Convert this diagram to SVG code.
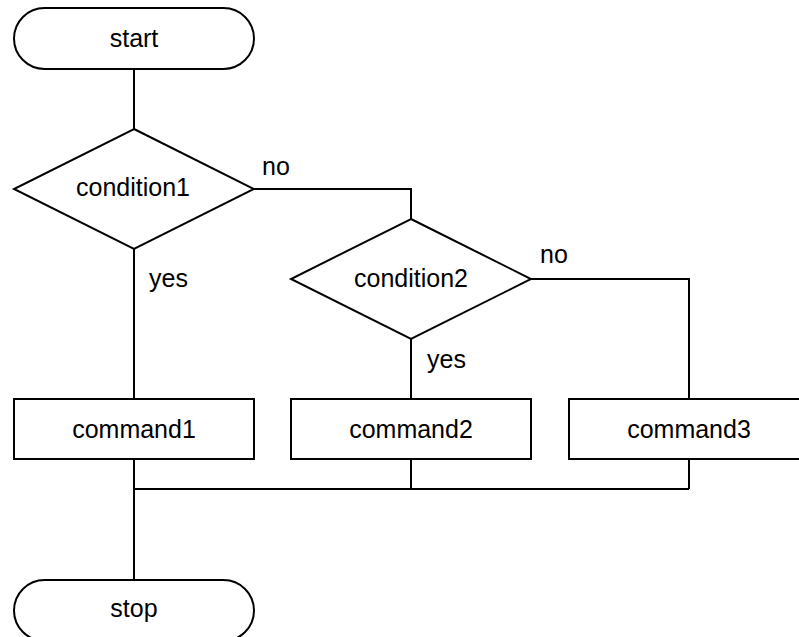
<svg xmlns="http://www.w3.org/2000/svg" width="799" height="637" viewBox="0 0 799 637">
  <style>
    .shape { fill: #ffffff; stroke: #000000; stroke-width: 2; }
    .wire { fill: none; stroke: #000000; stroke-width: 2; }
    .label { font-family: "Liberation Sans", Arial, sans-serif; font-size: 25px; fill: #000000; }
    .mid { text-anchor: middle; }
  </style>
  <rect width="799" height="637" fill="#ffffff"/>

  <!-- connectors -->
  <g id="connectors">
    <path class="wire" d="M134 69 V129"/>
    <path class="wire" d="M254 189 H411 V219"/>
    <path class="wire" d="M134 249 V399"/>
    <path class="wire" d="M531 279 H689 V399"/>
    <path class="wire" d="M411 339 V399"/>
    <path class="wire" d="M134 459 V580"/>
    <path class="wire" d="M411 459 V489"/>
    <path class="wire" d="M689 459 V489"/>
    <path class="wire" d="M134 489 H689"/>
    <text class="label" x="262" y="175">no</text>
    <text class="label" x="540" y="263">no</text>
    <text class="label" x="149" y="287">yes</text>
    <text class="label" x="427" y="368">yes</text>
  </g>

  <g id="start">
    <rect class="shape" x="14" y="8" width="240" height="61" rx="30.5" ry="30.5"/>
    <text class="label mid" x="134" y="47">start</text>
  </g>

  <g id="condition1">
    <polygon class="shape" points="134,129 254,189 134,249 14,189"/>
    <text class="label mid" x="133" y="196">condition1</text>
  </g>

  <g id="condition2">
    <polygon class="shape" points="411,219 531,279 411,339 291,279"/>
    <text class="label mid" x="411" y="287">condition2</text>
  </g>

  <g id="command1">
    <rect class="shape" x="14" y="399" width="240" height="60"/>
    <text class="label mid" x="134" y="438">command1</text>
  </g>

  <g id="command2">
    <rect class="shape" x="291" y="399" width="240" height="60"/>
    <text class="label mid" x="411" y="438">command2</text>
  </g>

  <g id="command3">
    <rect class="shape" x="569" y="399" width="240" height="60"/>
    <text class="label mid" x="689" y="438">command3</text>
  </g>

  <g id="stop">
    <rect class="shape" x="14" y="580" width="240" height="61" rx="30.5" ry="30.5"/>
    <text class="label mid" x="134" y="617">stop</text>
  </g>
</svg>
